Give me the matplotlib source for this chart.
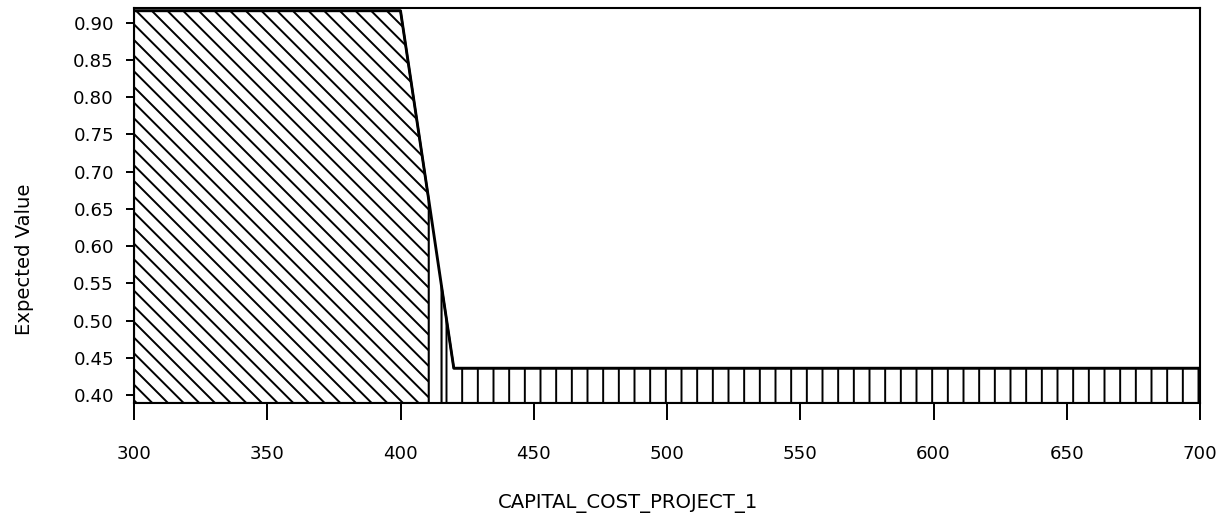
import matplotlib
matplotlib.use("Agg")
import matplotlib.pyplot as plt
import numpy as np

# ---- data ----
cost = [300, 400, 410.6, 415.4, 420, 700]
expected_value = [0.916, 0.916, 0.662, 0.546, 0.436, 0.436]
region_a_idx = (0, 3)   # points 300..410.6 -> diagonal hatch
region_b_idx = (3, 6)   # points 415.4..700 -> vertical hatch
x_ticks = [300, 350, 400, 450, 500, 550, 600, 650, 700]
y_ticks = [0.40, 0.45, 0.50, 0.55, 0.60, 0.65, 0.70, 0.75, 0.80, 0.85, 0.90]
y_limits = (0.3893, 0.9197)
x_limits = (300, 700)

DPI = 94
W, H = 1230, 519
plt.rcParams['font.family'] = ['DejaVu Sans']
plt.rcParams['hatch.linewidth'] = 1.5
plt.rcParams['hatch.color'] = 'black'

fig = plt.figure(figsize=(W / DPI, H / DPI), dpi=DPI)
ax = fig.add_axes([134 / W, (H - 403) / H, (1200 - 134) / W, (403 - 8) / H])

xa = cost[region_a_idx[0]:region_a_idx[1]]
ya = expected_value[region_a_idx[0]:region_a_idx[1]]
xb = cost[region_b_idx[0]:region_b_idx[1]]
yb = expected_value[region_b_idx[0]:region_b_idx[1]]

ax.fill_between(xa, y_limits[0], ya, facecolor='white', edgecolor='black',
                hatch='\\\\', linewidth=1.6)
ax.fill_between(xb, y_limits[0], yb, facecolor='white', edgecolor='black',
                hatch='|', linewidth=1.6)
ax.plot(cost, expected_value, color='black', linewidth=2.2)

ax.set_xlim(*x_limits)
ax.set_ylim(*y_limits)
ax.set_xticks(x_ticks)
ax.set_xticklabels([str(v) for v in x_ticks])
ax.set_yticks(y_ticks)
ax.set_yticklabels([f"{v:.2f}" for v in y_ticks])

for s in ax.spines.values():
    s.set_linewidth(1.6)
    s.set_color('black')

ax.tick_params(axis='x', direction='out', length=17 * 72 / DPI, width=1.5,
               pad=25 * 72 / DPI, labelsize=14)
ax.tick_params(axis='y', direction='out', length=8 * 72 / DPI, width=1.5,
               pad=12 * 72 / DPI, labelsize=14)

fig.text(25 / W, 1 - 259 / H, 'Expected Value', rotation=90,
         ha='center', va='center', fontsize=15)
fig.text(628 / W, 1 - 508 / H, 'CAPITAL_COST_PROJECT_1',
         ha='center', va='baseline', fontsize=15)

fig.savefig('out.png', dpi=DPI, facecolor='white')
